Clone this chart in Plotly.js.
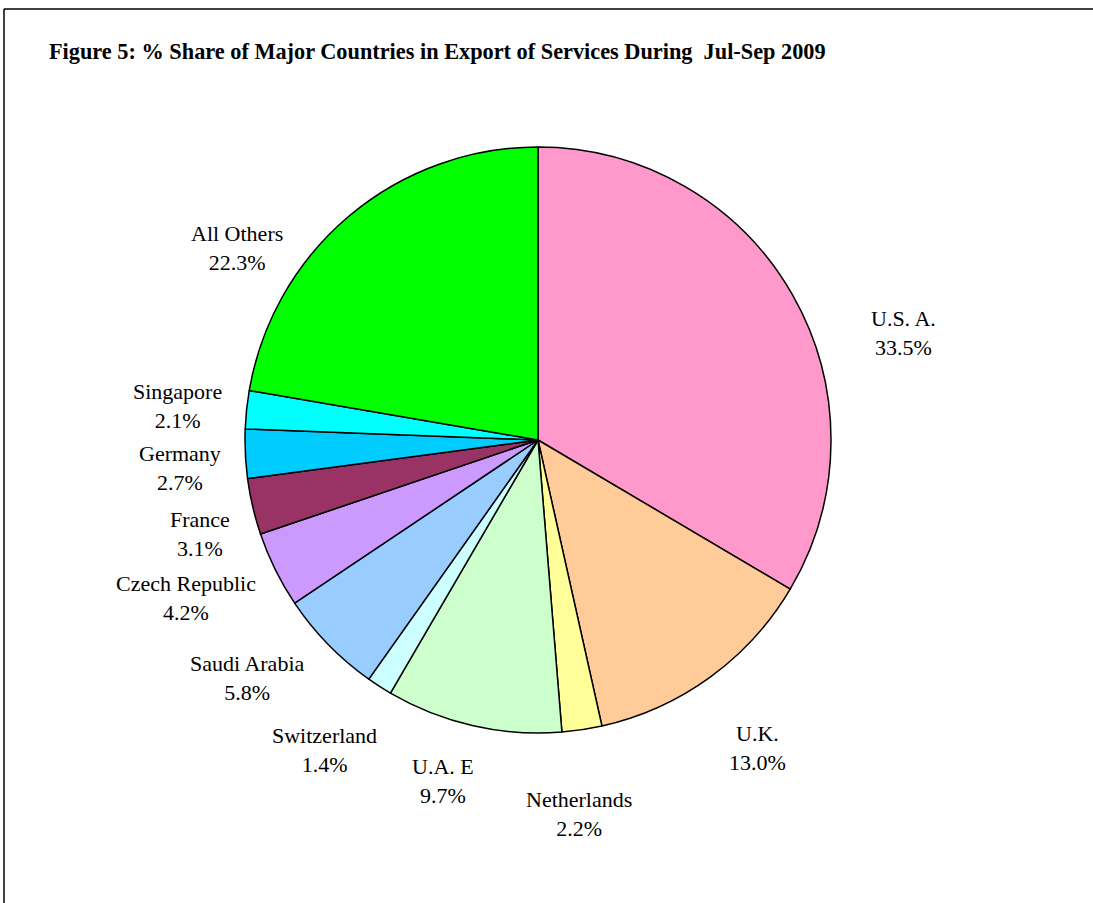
<!DOCTYPE html>
<html>
<head>
<meta charset="utf-8">
<script src="https://cdn.plot.ly/plotly-3.0.1.min.js"></script>
<style>html,body{margin:0;padding:0;background:#fff;}#chart{width:1093px;height:903px;}</style>
</head>
<body>
<div id="chart"></div>
<script>
// Data
const countries = ["U.S. A.", "U.K.", "Netherlands", "U.A. E", "Switzerland", "Saudi Arabia", "Czech Republic", "France", "Germany", "Singapore", "All Others"];
const shares = [33.5, 13.0, 2.2, 9.7, 1.4, 5.8, 4.2, 3.1, 2.7, 2.1, 22.3];
const sliceColors = ["#FF99CC", "#FFCC99", "#FFFF99", "#CCFFCC", "#CCFFFF", "#99CCFF", "#CC99FF", "#993366", "#00CCFF", "#00FFFF", "#00FF00"];

// Label placement (pixel centres of each label, layout only)
const W = 1093, H = 903;
const labelPos = [
  [903, 333], [757, 748], [579, 814], [443, 781], [324, 750],
  [247, 678], [186, 598], [200, 534], [180, 468], [177, 406], [237, 248]
];

const cx = 538, cy = 440, r = 293;

const trace = {
  type: "pie",
  labels: countries,
  values: shares,
  sort: false,
  direction: "clockwise",
  rotation: 0,
  marker: { colors: sliceColors, line: { color: "#000000", width: 1.5 } },
  textinfo: "none",
  hoverinfo: "label+value",
  showlegend: false,
  domain: { x: [(cx - r) / W, (cx + r) / W], y: [1 - (cy + r) / H, 1 - (cy - r) / H] }
};

const annotations = countries.map((c, i) => ({
  xref: "paper", yref: "paper",
  x: labelPos[i][0] / W, y: 1 - labelPos[i][1] / H,
  xanchor: "center", yanchor: "middle",
  text: c + "<br>" + shares[i].toFixed(1) + "%",
  showarrow: false,
  align: "center",
  font: { family: "Liberation Serif, Times New Roman, serif", size: 22, color: "#000" }
}));

annotations.push({
  xref: "paper", yref: "paper",
  x: 47 / W, y: 1 - 51 / H,
  xanchor: "left", yanchor: "middle",
  text: "<b>Figure 5: % Share of Major Countries in Export of Services During  Jul-Sep 2009</b>",
  showarrow: false,
  font: { family: "Liberation Serif, Times New Roman, serif", size: 22.3, color: "#000" }
});

const layout = {
  width: W, height: H,
  margin: { l: 0, r: 0, t: 0, b: 0 },
  paper_bgcolor: "#ffffff",
  plot_bgcolor: "#ffffff",
  showlegend: false,
  annotations: annotations,
  shapes: [
    { type: "line", xref: "paper", yref: "paper", x0: 4 / W, x1: 1, y0: 1 - 9 / H, y1: 1 - 9 / H, line: { color: "#000", width: 1.5 } },
    { type: "line", xref: "paper", yref: "paper", x0: 4 / W, x1: 4 / W, y0: 0, y1: 1 - 9 / H, line: { color: "#000", width: 1.5 } }
  ]
};

Plotly.newPlot("chart", [trace], layout, { displayModeBar: false, staticPlot: true });
</script>
</body>
</html>
